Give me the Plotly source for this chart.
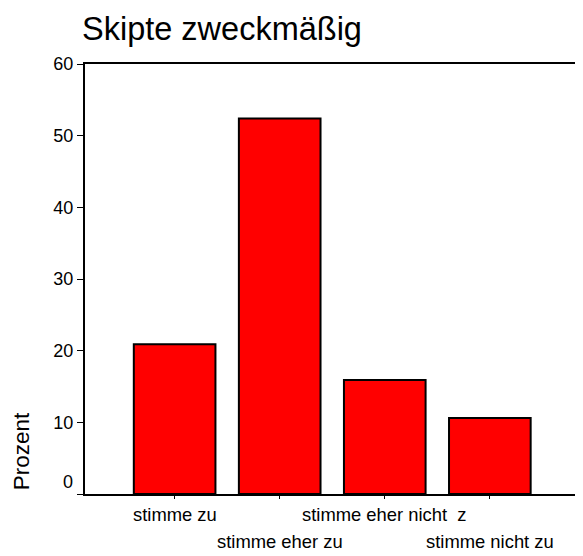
import plotly.graph_objects as go

# Antwortkategorien und Prozentwerte
kategorien = ["stimme zu", "stimme eher zu", "stimme eher nicht  z", "stimme nicht zu"]
prozent = [20.9, 52.4, 15.9, 10.6]
y_ticks = [0, 10, 20, 30, 40, 50, 60]

schrift = "Liberation Sans, Arial, sans-serif"

# Die Seite hat 8px Rand, daher ist die Figur etwas kleiner als das Fenster
breite, hoehe = 575, 548
rand = dict(l=77, r=5, t=56, b=62)
plot_breite = breite - rand["l"] - rand["r"]
plot_hoehe = hoehe - rand["t"] - rand["b"]

fig = go.Figure()

fig.add_trace(go.Bar(
    x=kategorien,
    y=prozent,
    width=0.777,
    marker=dict(color="#ff0000", line=dict(color="black", width=2)),
    showlegend=False
))

# Beschriftungen der Kategorien abwechselnd in zwei Zeilen
for i, kat in enumerate(kategorien):
    fig.add_annotation(
        x=kat, xref="x",
        y=0, yref="paper",
        yanchor="top",
        yshift=-8 if i % 2 == 0 else -35,
        text=kat,
        showarrow=False,
        font=dict(family=schrift, size=18.4, color="black")
    )

# die "0" sitzt im Original etwas oberhalb der Achse
fig.add_annotation(
    x=(67 - rand["l"]) / plot_breite, xref="paper", xanchor="right",
    y=y_ticks[0], yref="y", yanchor="middle", yshift=12,
    text=str(y_ticks[0]),
    showarrow=False,
    font=dict(family=schrift, size=18, color="black")
)

# Achsentitel unten links
fig.add_annotation(
    x=(13 - rand["l"]) / plot_breite, xref="paper", xanchor="center",
    y=(hoehe - rand["b"] - 443) / plot_hoehe, yref="paper", yanchor="middle",
    text="Prozent",
    textangle=-90,
    showarrow=False,
    font=dict(family=schrift, size=22.5, color="black")
)

fig.update_layout(
    width=breite, height=hoehe,
    margin=rand,
    paper_bgcolor="white",
    plot_bgcolor="white",
    title=dict(
        text="Skipte zweckmäßig",
        x=74 / breite, xref="container", xanchor="left",
        y=1 - 21 / hoehe, yref="container", yanchor="middle",
        font=dict(family=schrift, size=32.5, color="black")
    )
)

fig.update_xaxes(
    range=[-0.853, 3.82],
    showticklabels=False,
    ticks="outside", ticklen=3, tickwidth=1, tickcolor="black",
    showline=True, linecolor="black", linewidth=2, mirror=True,
    showgrid=False, zeroline=False
)

fig.update_yaxes(
    range=[0, 60],
    tickvals=y_ticks,
    ticktext=[""] + [str(t) for t in y_ticks[1:]],
    ticks="outside", ticklen=6, tickwidth=1, tickcolor="black",
    tickfont=dict(family=schrift, size=18, color="black"),
    showline=True, linecolor="black", linewidth=2, mirror=True,
    showgrid=False, zeroline=False
)

fig.write_html("out.html")
